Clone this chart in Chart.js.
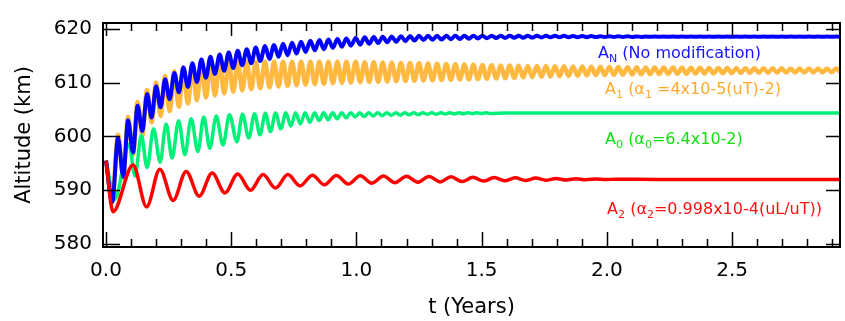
<!DOCTYPE html>
<html>
<head>
<meta charset="utf-8">
<script src="https://cdn.jsdelivr.net/npm/chart.js@4.4.1/dist/chart.umd.min.js"></script>
<style>
  html, body { margin: 0; padding: 0; background: #fff; overflow: hidden; }
  canvas { display: block; }
</style>
</head>
<body>
<canvas id="chart" width="845" height="321"></canvas>
<script>
// extremum times (years) shared by A_N and A_1
const oscT = [0, .025, .048, .069, .088, .108, .126, .145,
  .164, .182, .200, .218, .236, .254, .273, .291, .309, .327, .345, .363, .381, .399, .417, .435, .454, .472,
  .490, .508, .526, .544, .562, .580, .598, .616, .635, .653, .671, .689, .707, .725, .743, .761, .779, .797,
  .816, .834, .852, .870, .888, .906, .924, .942, .960, .978, .997, 1.015, 1.033, 1.051, 1.069, 1.087, 1.105,
  1.123, 1.141, 1.159, 1.178, 1.196, 1.214, 1.232, 1.250, 1.268, 1.286, 1.304, 1.322, 1.340, 1.359, 1.377,
  1.395, 1.413, 1.431, 1.449, 1.467, 1.485, 1.503, 1.521, 1.540, 1.558, 1.576, 1.594, 1.612, 1.630, 1.648,
  1.666, 1.684, 1.702, 1.721, 1.739, 1.757, 1.775, 1.793, 1.811, 1.829, 1.847, 1.865, 1.883, 1.902, 1.920,
  1.938, 1.956, 1.974, 1.992, 2.010, 2.028, 2.046, 2.064, 2.083, 2.101, 2.119, 2.137, 2.155, 2.173, 2.191,
  2.209, 2.227, 2.245, 2.264, 2.282, 2.300, 2.318, 2.336, 2.354, 2.372, 2.390, 2.408, 2.426, 2.445, 2.463,
  2.481, 2.499, 2.517, 2.535, 2.553, 2.571, 2.589, 2.607, 2.626, 2.644, 2.662, 2.680, 2.698, 2.716, 2.734,
  2.752, 2.770, 2.788, 2.807, 2.825, 2.843, 2.861, 2.879, 2.897, 2.915, 2.933];

// A_N (no modification), km
const anAlt = [595.5, 587.8, 599.7, 592.5, 603.0, 597.0, 605.7, 601.0,
  607.9, 603.5, 609.3, 605.4, 610.6, 606.9, 611.8, 608.2, 612.8, 609.2, 613.6, 610.1, 614.3, 610.9, 614.8, 611.6,
  615.2, 612.2, 615.6, 612.7, 615.9, 613.2, 616.2, 613.6, 616.5, 614.0, 616.8, 614.4, 617.0, 614.8, 617.2, 615.1,
  617.4, 615.4, 617.6, 615.7, 617.75, 616.0, 617.9, 616.2, 618.0, 616.45, 618.1, 616.65, 618.2, 616.85,
  618.3, 617.05, 618.4, 617.2, 618.45, 617.35, 618.5, 617.5, 618.55, 617.6, 618.6, 617.7, 618.65, 617.8,
  618.7, 617.9, 618.7, 617.95, 618.7, 618.0, 618.7, 618.05, 618.7, 618.1, 618.7, 618.15, 618.7, 618.2,
  618.7, 618.25, 618.7, 618.28, 618.7, 618.3, 618.7, 618.32, 618.7, 618.34, 618.7, 618.36, 618.7, 618.38,
  618.7, 618.4, 618.7, 618.41, 618.7, 618.42, 618.65, 618.43, 618.65, 618.44, 618.65, 618.45, 618.6, 618.46,
  618.6, 618.47, 618.6, 618.48, 618.6, 618.48, 618.58, 618.49, 618.57, 618.5, 618.56, 618.5,
  618.55, 618.5, 618.55, 618.5, 618.55, 618.5, 618.55, 618.5, 618.55, 618.5, 618.55, 618.5, 618.55, 618.5,
  618.55, 618.5, 618.55, 618.5, 618.55, 618.5, 618.54, 618.51, 618.54, 618.51, 618.54, 618.51, 618.54, 618.51,
  618.54, 618.51, 618.54, 618.51, 618.54, 618.51, 618.54, 618.51, 618.54, 618.51, 618.54, 618.51];

// A_1, km
const a1Alt = [595.5, 588.2, 600.3, 592.3, 603.6, 596.6, 606.4, 600.2,
  608.6, 602.6, 610.0, 603.8, 611.2, 604.7, 612.1, 605.5, 612.8, 606.1, 613.2, 606.7, 613.5, 607.2, 613.7, 607.6,
  613.8, 608.0, 613.85, 608.3, 613.85, 608.55, 613.85, 608.75, 613.85, 608.95, 613.85, 609.1, 613.85, 609.25,
  613.85, 609.4, 613.85, 609.5, 613.85, 609.6, 613.85, 609.7, 613.85, 609.8, 613.85, 609.87, 613.85, 609.93,
  613.85, 610.0, 613.85, 610.05, 613.8, 610.1, 613.77, 610.15, 613.74, 610.2, 613.7, 610.25, 613.66, 610.3,
  613.62, 610.35, 613.58, 610.4, 613.53, 610.44, 613.49, 610.48, 613.44, 610.52, 613.4, 610.56, 613.35, 610.6,
  613.3, 610.64, 613.25, 610.7, 613.22, 610.76, 613.19, 610.82, 613.16, 610.88, 613.13, 610.94, 613.1, 611.0,
  613.08, 611.06, 613.06, 611.12, 613.04, 611.18, 613.02, 611.23, 613.0, 611.28, 612.97, 611.32, 612.94, 611.36,
  612.92, 611.4, 612.9, 611.44, 612.88, 611.47, 612.86, 611.5, 612.84, 611.53, 612.82, 611.56, 612.8, 611.58,
  612.79, 611.61, 612.78, 611.63, 612.76, 611.65, 612.75, 611.67, 612.74, 611.69, 612.72, 611.71, 612.71, 611.73,
  612.7, 611.75, 612.69, 611.77, 612.68, 611.79, 612.67, 611.81, 612.66, 611.82, 612.65, 611.84, 612.64, 611.85,
  612.63, 611.86, 612.62, 611.87, 612.62, 611.88, 612.61, 611.89, 612.6, 611.9, 612.6, 611.9];

// A_0
const a0T = [0, .035, .092, .116, .141, .164, .19, .216, .24, .264,
  .29, .315, .34, .367, .39, .415, .44, .467, .493, .523,
  .545, .57, .593, .615, .636, .657, .677, .698, .718, .738,
  .757, .776, .795, .814, .833, .851, .869, .887, .905, .923,
  .941, .959, .977, .995, 1.013, 1.031, 1.049, 1.067, 1.085, 1.103,
  1.121, 1.139, 1.157, 1.175, 1.193, 1.211, 1.229, 1.247, 1.265, 1.283,
  1.301, 1.319, 1.337, 1.355, 1.373, 1.391, 1.409, 1.427, 1.445, 1.463,
  1.481, 1.499, 1.517, 1.535, 1.6, 2.93];
const a0Alt = [595.5, 588.3, 598.5, 592.6, 600.2, 594.2, 601.4, 595.2, 602.3, 596.0,
  602.9, 596.6, 603.3, 597.2, 603.6, 597.8, 603.8, 598.4, 604.0, 599.0,
  604.1, 599.7, 604.2, 600.3, 604.3, 600.9, 604.35, 601.4, 604.4, 601.9,
  604.4, 602.3, 604.4, 602.6, 604.4, 602.9, 604.4, 603.1, 604.4, 603.3,
  604.4, 603.45, 604.4, 603.6, 604.4, 603.7, 604.4, 603.8, 604.4, 603.85,
  604.4, 603.9, 604.4, 603.95, 604.4, 604.0, 604.4, 604.05, 604.4, 604.1,
  604.4, 604.12, 604.4, 604.15, 604.4, 604.18, 604.4, 604.2, 604.4, 604.22,
  604.4, 604.24, 604.4, 604.26, 604.33, 604.33];

// A_2
const a2T = [0, .028, .108, .162, .215, .268, .32, .372, .424, .475,
  .526, .577, .627, .677, .726, .775, .824, .872, .92, .968,
  1.015, 1.062, 1.108, 1.154, 1.2, 1.245, 1.29, 1.334, 1.378, 1.422,
  1.465, 1.508, 1.55, 1.592, 1.634, 1.675, 1.716, 1.757, 1.797, 1.837,
  1.877, 1.917, 1.956, 1.995, 2.034, 2.2, 2.93];
const a2Alt = [595.5, 586.0, 594.7, 586.9, 593.9, 588.1, 593.5, 588.9, 593.2, 589.5,
  593.0, 590.0, 592.9, 590.4, 592.9, 590.8, 592.8, 591.0, 592.75, 591.15,
  592.7, 591.3, 592.65, 591.4, 592.6, 591.5, 592.55, 591.55, 592.5, 591.6,
  592.4, 591.7, 592.35, 591.75, 592.3, 591.8, 592.25, 591.85, 592.2, 591.9,
  592.15, 591.95, 592.1, 591.98, 592.05, 592.0, 592.0];

const xTicks = [0, 0.5, 1.0, 1.5, 2.0, 2.5];
const yTicks = [580, 590, 600, 610, 620];

const FONT = 'DejaVu Sans';

function pts(ts, vs) {
  return vs.map((v, i) => ({ x: ts[i], y: v }));
}

function series(label, ts, vs, color, width, order) {
  return {
    label: label,
    data: pts(ts, vs),
    borderColor: color,
    borderWidth: width,
    pointRadius: 0,
    fill: false,
    cubicInterpolationMode: "monotone",
    order: order,
  };
}

// frame with inward ticks on all four sides
const framePlugin = {
  id: "frame",
  afterDatasetsDraw(chart) {
    const { ctx, chartArea: a, scales } = chart;
    const xs = scales.x, ys = scales.y;
    ctx.save();
    ctx.strokeStyle = "#000";
    ctx.lineWidth = 1.5;
    ctx.beginPath();
    for (let i = 0; i <= 29; i++) {
      const v = i / 10;
      const px = Math.round(xs.getPixelForValue(v)) + 0.5;
      const major = i % 5 === 0;
      ctx.moveTo(px, a.bottom);
      ctx.lineTo(px, a.bottom - (major ? 15 : 8));
      ctx.moveTo(px, a.top);
      ctx.lineTo(px, a.top + (major ? 13 : 8));
    }
    yTicks.forEach((v) => {
      const py = Math.round(ys.getPixelForValue(v)) + 0.5;
      ctx.moveTo(a.left, py);
      ctx.lineTo(a.left + 17, py);
      ctx.moveTo(a.right, py);
      ctx.lineTo(a.right - 14, py);
    });
    ctx.stroke();
    ctx.lineWidth = 2;
    ctx.strokeRect(a.left, a.top, a.right - a.left, a.bottom - a.top);
    ctx.restore();
  },
};

const notes = [
  { t: 1.965, alt: 614.64, color: "#1414ff", runs: [["A"], ["N", 1], [" (No modification)"]] },
  { t: 1.993, alt: 607.86, color: "#ffa82a", runs: [["A"], ["1", 1], [" (α"], ["1", 1], [" =4x10-5(uT)-2)"]] },
  { t: 1.993, alt: 598.57, color: "#10e010", runs: [["A"], ["0", 1], [" (α"], ["0", 1], ["=6.4x10-2)"]] },
  { t: 2.001, alt: 585.54, color: "#ff1010", runs: [["A"], ["2", 1], [" (α"], ["2", 1], ["=0.998x10-4(uL/uT))"]] },
];

const notePlugin = {
  id: "notes",
  afterDraw(chart) {
    const { ctx, scales } = chart;
    ctx.save();
    ctx.textBaseline = "alphabetic";
    notes.forEach((n) => {
      let x = scales.x.getPixelForValue(n.t);
      const y = scales.y.getPixelForValue(n.alt);
      ctx.fillStyle = n.color;
      n.runs.forEach(([s, sub]) => {
        ctx.font = (sub ? "11px " : "16px ") + '"' + FONT + '"';
        ctx.fillText(s, x, sub ? y + 4 : y);
        x += ctx.measureText(s).width;
      });
    });
    ctx.restore();
  },
};

new Chart(document.getElementById("chart"), {
  type: "line",
  data: {
    datasets: [
      series("A1", oscT, a1Alt, "#ffb840", 4.5, 4),
      series("A0", a0T, a0Alt, "#00f07a", 3.5, 3),
      series("AN", oscT, anAlt, "#0000ff", 4, 2),
      series("A2", a2T, a2Alt, "#ff0000", 3.5, 1),
    ],
  },
  options: {
    responsive: false,
    animation: false,
    layout: { padding: { top: 14, right: 5, left: 0, bottom: 0 } },
    plugins: {
      legend: { display: false },
      tooltip: { enabled: false },
    },
    scales: {
      x: {
        type: "linear",
        min: -0.012,
        max: 2.931,
        grid: { display: false, drawTicks: false },
        border: { display: false },
        afterBuildTicks: (s) => { s.ticks = xTicks.map((v) => ({ value: v })); },
        afterFit: (s) => { s.height = 74; },
        ticks: {
          padding: 12,
          color: "#000",
          maxRotation: 0,
          font: { family: FONT, size: 20 },
          callback: (v) => Number(v).toFixed(1),
        },
        title: {
          display: true,
          text: "t (Years)",
          color: "#000",
          font: { family: FONT, size: 21 },
          padding: { top: 0, bottom: 1 },
        },
      },
      y: {
        min: 579.45,
        max: 621.07,
        grid: { display: false, drawTicks: false },
        border: { display: false },
        afterBuildTicks: (s) => { s.ticks = yTicks.map((v) => ({ value: v })); },
        afterFit: (s) => { s.width = 103; },
        ticks: {
          padding: 11,
          color: "#000",
          font: { family: FONT, size: 20 },
        },
        title: {
          display: true,
          text: "Altitude (km)",
          color: "#000",
          font: { family: FONT, size: 21 },
          padding: { top: 12, bottom: 0 },
        },
      },
    },
  },
  plugins: [framePlugin, notePlugin],
});
</script>
</body>
</html>
